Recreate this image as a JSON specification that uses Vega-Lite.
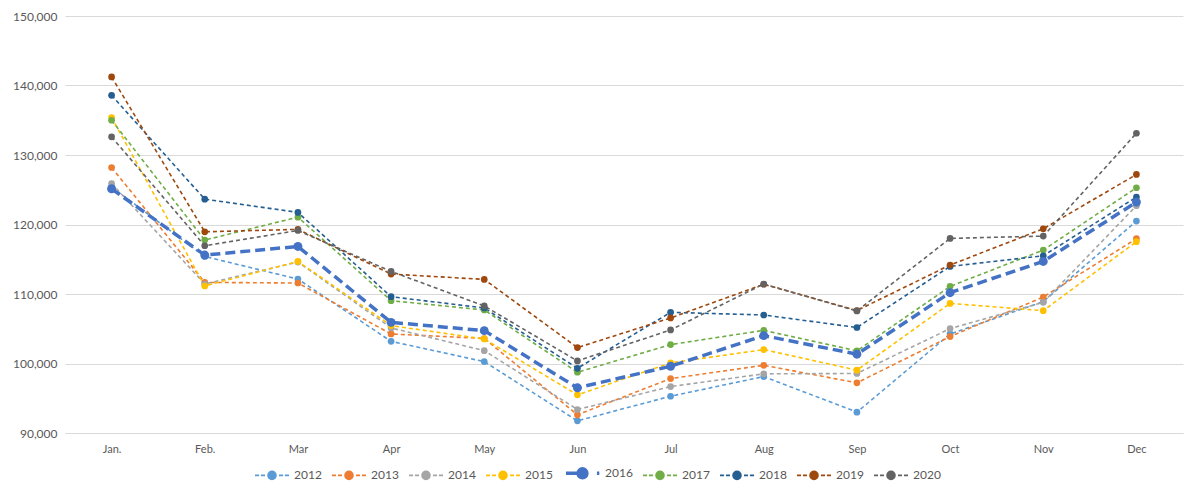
{
  "$schema": "https://vega.github.io/schema/vega-lite/v6.json",
  "width": 1118,
  "height": 417,
  "autosize": {"type": "none"},
  "padding": {"left": 65, "top": 16, "right": 17, "bottom": 63},
  "background": "white",
  "config": {
    "view": {"stroke": null},
    "font": "Lato",
    "axis": {"labelColor": "#595959", "labelFontSize": 12, "title": null}
  },
  "data": {
    "values": [
      {"month": "Jan.", "year": "2012", "value": 125400},
      {"month": "Feb.", "year": "2012", "value": 115400},
      {"month": "Mar", "year": "2012", "value": 112150},
      {"month": "Apr", "year": "2012", "value": 103190},
      {"month": "May", "year": "2012", "value": 100270},
      {"month": "Jun", "year": "2012", "value": 91750},
      {"month": "Jul", "year": "2012", "value": 95290},
      {"month": "Aug", "year": "2012", "value": 98120},
      {"month": "Sep", "year": "2012", "value": 93000},
      {"month": "Oct", "year": "2012", "value": 104250},
      {"month": "Nov", "year": "2012", "value": 108900},
      {"month": "Dec", "year": "2012", "value": 120490},
      {"month": "Jan.", "year": "2013", "value": 128200},
      {"month": "Feb.", "year": "2013", "value": 111670},
      {"month": "Mar", "year": "2013", "value": 111580},
      {"month": "Apr", "year": "2013", "value": 104250},
      {"month": "May", "year": "2013", "value": 103600},
      {"month": "Jun", "year": "2013", "value": 92620},
      {"month": "Jul", "year": "2013", "value": 97830},
      {"month": "Aug", "year": "2013", "value": 99740},
      {"month": "Sep", "year": "2013", "value": 97220},
      {"month": "Oct", "year": "2013", "value": 103870},
      {"month": "Nov", "year": "2013", "value": 109570},
      {"month": "Dec", "year": "2013", "value": 117960},
      {"month": "Jan.", "year": "2014", "value": 125900},
      {"month": "Feb.", "year": "2014", "value": 111440},
      {"month": "Mar", "year": "2014", "value": 114600},
      {"month": "Apr", "year": "2014", "value": 105120},
      {"month": "May", "year": "2014", "value": 101850},
      {"month": "Jun", "year": "2014", "value": 93380},
      {"month": "Jul", "year": "2014", "value": 96680},
      {"month": "Aug", "year": "2014", "value": 98510},
      {"month": "Sep", "year": "2014", "value": 98560},
      {"month": "Oct", "year": "2014", "value": 105020},
      {"month": "Nov", "year": "2014", "value": 108800},
      {"month": "Dec", "year": "2014", "value": 122700},
      {"month": "Jan.", "year": "2015", "value": 135390},
      {"month": "Feb.", "year": "2015", "value": 111150},
      {"month": "Mar", "year": "2015", "value": 114690},
      {"month": "Apr", "year": "2015", "value": 105450},
      {"month": "May", "year": "2015", "value": 103530},
      {"month": "Jun", "year": "2015", "value": 95490},
      {"month": "Jul", "year": "2015", "value": 100090},
      {"month": "Aug", "year": "2015", "value": 102000},
      {"month": "Sep", "year": "2015", "value": 99040},
      {"month": "Oct", "year": "2015", "value": 108650},
      {"month": "Nov", "year": "2015", "value": 107600},
      {"month": "Dec", "year": "2015", "value": 117530},
      {"month": "Jan.", "year": "2016", "value": 125140},
      {"month": "Feb.", "year": "2016", "value": 115600},
      {"month": "Mar", "year": "2016", "value": 116840},
      {"month": "Apr", "year": "2016", "value": 105920},
      {"month": "May", "year": "2016", "value": 104730},
      {"month": "Jun", "year": "2016", "value": 96500},
      {"month": "Jul", "year": "2016", "value": 99600},
      {"month": "Aug", "year": "2016", "value": 104010},
      {"month": "Sep", "year": "2016", "value": 101340},
      {"month": "Oct", "year": "2016", "value": 110190},
      {"month": "Nov", "year": "2016", "value": 114690},
      {"month": "Dec", "year": "2016", "value": 123220},
      {"month": "Jan.", "year": "2017", "value": 135000},
      {"month": "Feb.", "year": "2017", "value": 117760},
      {"month": "Mar", "year": "2017", "value": 121060},
      {"month": "Apr", "year": "2017", "value": 109040},
      {"month": "May", "year": "2017", "value": 107700},
      {"month": "Jun", "year": "2017", "value": 98740},
      {"month": "Jul", "year": "2017", "value": 102720},
      {"month": "Aug", "year": "2017", "value": 104770},
      {"month": "Sep", "year": "2017", "value": 101820},
      {"month": "Oct", "year": "2017", "value": 111100},
      {"month": "Nov", "year": "2017", "value": 116320},
      {"month": "Dec", "year": "2017", "value": 125290},
      {"month": "Jan.", "year": "2018", "value": 138590},
      {"month": "Feb.", "year": "2018", "value": 123650},
      {"month": "Mar", "year": "2018", "value": 121740},
      {"month": "Apr", "year": "2018", "value": 109610},
      {"month": "May", "year": "2018", "value": 107990},
      {"month": "Jun", "year": "2018", "value": 99310},
      {"month": "Jul", "year": "2018", "value": 107360},
      {"month": "Aug", "year": "2018", "value": 106980},
      {"month": "Sep", "year": "2018", "value": 105180},
      {"month": "Oct", "year": "2018", "value": 113970},
      {"month": "Nov", "year": "2018", "value": 115500},
      {"month": "Dec", "year": "2018", "value": 123940},
      {"month": "Jan.", "year": "2019", "value": 141240},
      {"month": "Feb.", "year": "2019", "value": 118950},
      {"month": "Mar", "year": "2019", "value": 119300},
      {"month": "Apr", "year": "2019", "value": 112870},
      {"month": "May", "year": "2019", "value": 112100},
      {"month": "Jun", "year": "2019", "value": 102290},
      {"month": "Jul", "year": "2019", "value": 106550},
      {"month": "Aug", "year": "2019", "value": 111400},
      {"month": "Sep", "year": "2019", "value": 107620},
      {"month": "Oct", "year": "2019", "value": 114170},
      {"month": "Nov", "year": "2019", "value": 119380},
      {"month": "Dec", "year": "2019", "value": 127200},
      {"month": "Jan.", "year": "2020", "value": 132610},
      {"month": "Feb.", "year": "2020", "value": 116940},
      {"month": "Mar", "year": "2020", "value": 119140},
      {"month": "Apr", "year": "2020", "value": 113250},
      {"month": "May", "year": "2020", "value": 108280},
      {"month": "Jun", "year": "2020", "value": 100370},
      {"month": "Jul", "year": "2020", "value": 104830},
      {"month": "Aug", "year": "2020", "value": 111440},
      {"month": "Sep", "year": "2020", "value": 107560},
      {"month": "Oct", "year": "2020", "value": 118000},
      {"month": "Nov", "year": "2020", "value": 118330},
      {"month": "Dec", "year": "2020", "value": 133130}
    ]
  },
  "encoding": {
    "x": {
      "field": "month",
      "type": "ordinal",
      "sort": ["Jan.", "Feb.", "Mar", "Apr", "May", "Jun", "Jul", "Aug", "Sep", "Oct", "Nov", "Dec"],
      "scale": {"type": "point", "padding": 0.5},
      "axis": {
        "labelAngle": 0,
        "ticks": false,
        "grid": false,
        "domainColor": "#d9d9d9",
        "labelPadding": 10,
        "labelFontSize": 11
      }
    },
    "y": {
      "field": "value",
      "type": "quantitative",
      "scale": {"domain": [90000, 150000], "nice": false, "zero": false},
      "axis": {
        "values": [90000, 100000, 110000, 120000, 130000, 140000, 150000],
        "format": ",.0f",
        "domain": false,
        "ticks": false,
        "gridColor": "#d9d9d9",
        "labelPadding": 8
      }
    },
    "color": {
      "field": "year",
      "type": "nominal",
      "scale": {
        "domain": ["2012", "2013", "2014", "2015", "2016", "2017", "2018", "2019", "2020"],
        "range": ["#5B9BD5", "#ED7D31", "#A5A5A5", "#FFC000", "#4472C4", "#70AD47", "#255E91", "#9E480E", "#636363"]
      },
      "legend": {
        "title": null,
        "orient": "none",
        "legendX": 190,
        "legendY": 451,
        "direction": "horizontal",
        "columns": 9,
        "padding": 0,
        "columnPadding": 6,
        "labelOffset": 4,
        "labelFontSize": 12,
        "labelColor": "#595959",
        "symbolSize": 1156,
        "symbolType": "M-1,0L-0.76,0M-0.65,0L-0.41,0M0.41,0L0.65,0M0.76,0L1,0M0.235,0A0.235,0.235,0,1,1,-0.235,0A0.235,0.235,0,1,1,0.235,0Z",
        "encode": {
          "symbols": {
            "update": {
              "x": {"value": 17},
              "size": {"value": 1156},
              "stroke": {"scale": "color", "field": "value"},
              "fill": {"scale": "color", "field": "value"},
              "opacity": {"value": 1},
              "strokeWidth": {"signal": "datum.value === '2016' ? 3.5 : 1.6"},
              "shape": {"signal": "datum.value === '2016' ? 'M-1,0L-0.35,0M0.82,0L0.96,0M0.23,0A0.26,0.26,0,1,1,-0.29,0A0.26,0.26,0,1,1,0.23,0Z' : 'M-1,0L-0.76,0M-0.65,0L-0.41,0M0.41,0L0.65,0M0.76,0L1,0M0.235,0A0.235,0.235,0,1,1,-0.235,0A0.235,0.235,0,1,1,0.235,0Z'"}
            }
          },
          "labels": {
            "update": {
              "x": {"value": 39}
            }
          }
        }
      }
    }
  },
  "layer": [
    {
      "transform": [{"filter": "datum.year !== '2016'"}],
      "mark": {"type": "line", "strokeWidth": 1.6, "strokeDash": [4, 3]},
      "encoding": {}
    },
    {
      "transform": [{"filter": "datum.year === '2016'"}],
      "mark": {"type": "line", "strokeWidth": 3.5, "strokeDash": [10, 5]},
      "encoding": {}
    },
    {
      "transform": [{"filter": "datum.year !== '2016'"}],
      "mark": {"type": "point", "filled": true, "opacity": 1, "size": 45},
      "encoding": {}
    },
    {
      "transform": [{"filter": "datum.year === '2016'"}],
      "mark": {"type": "point", "filled": true, "opacity": 1, "size": 80},
      "encoding": {}
    }
  ]
}
